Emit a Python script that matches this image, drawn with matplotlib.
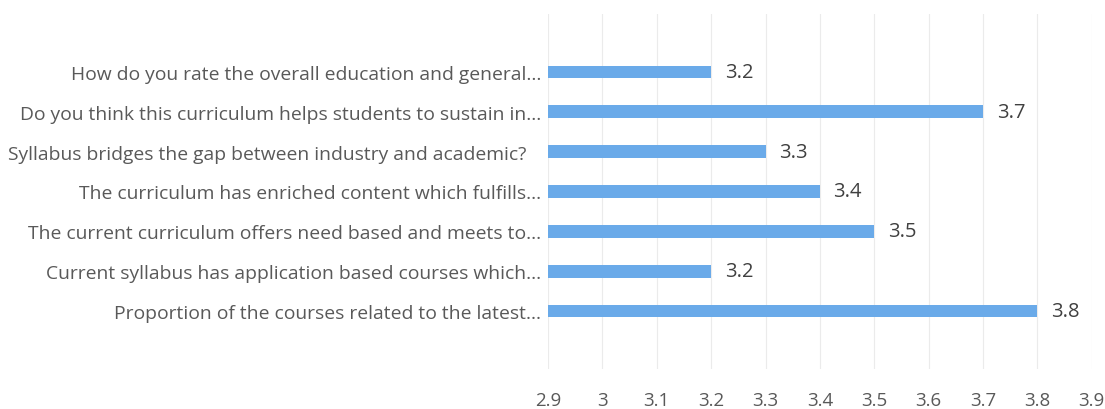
import matplotlib.pyplot as plt

questions = [
    "How do you rate the overall education and general...",
    "Do you think this curriculum helps students to sustain in...",
    "Syllabus bridges the gap between industry and academic?   ",
    "The curriculum has enriched content which fulfills...",
    "The current curriculum offers need based and meets to...",
    "Current syllabus has application based courses which...",
    "Proportion of the courses related to the latest...",
]
scores = [3.2, 3.7, 3.3, 3.4, 3.5, 3.2, 3.8]
xticks = [2.9, 3, 3.1, 3.2, 3.3, 3.4, 3.5, 3.6, 3.7, 3.8, 3.9]

plt.rcParams['font.family'] = ['Open Sans', 'DejaVu Sans']

fig = plt.figure(figsize=(11.05, 4.1), dpi=100)
ax = fig.add_axes([0.496, 0.098, 0.492, 0.865])

ypos = list(range(len(questions)))[::-1]
ax.barh(ypos, [s - 2.9 for s in scores], left=2.9, height=0.32, color='#6aaae9', zorder=2)
for y, s in zip(ypos, scores):
    ax.text(s + 0.025, y, str(s), va='center', ha='left', fontsize=14.5, color='#404040')

ax.set_xlim(2.9, 3.9)
ax.set_ylim(-1.45, 7.45)
ax.set_xticks(xticks)
ax.set_xticklabels([str(t) for t in xticks], fontsize=13.5, color='#595959')
ax.set_yticks(ypos)
ax.set_yticklabels(questions, fontsize=13.9, color='#595959')
ax.tick_params(length=0, axis='x', pad=16)
ax.tick_params(length=0, axis='y', pad=5)
ax.grid(axis='x', color='#ebebeb', linewidth=0.8, zorder=0)
for sp in ax.spines.values():
    sp.set_visible(False)

fig.savefig('out.png')
